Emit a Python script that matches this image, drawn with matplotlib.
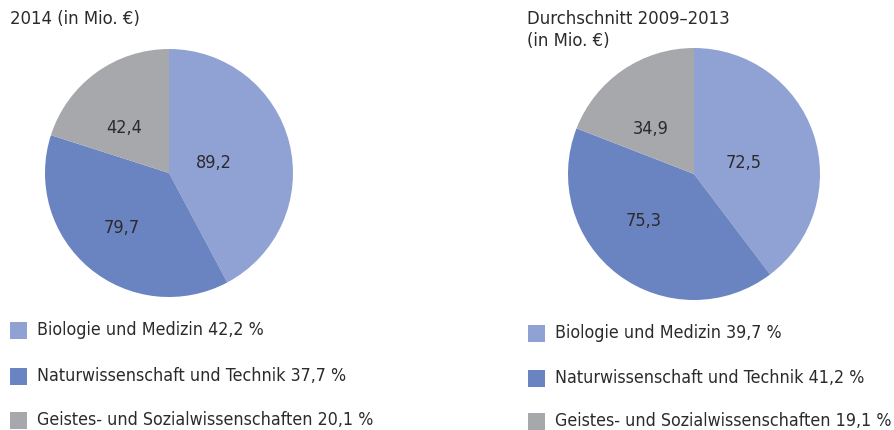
import matplotlib
matplotlib.use("Agg")
import matplotlib.pyplot as plt
from matplotlib.patches import Rectangle

plt.rcParams['font.family'] = ['DejaVu Sans']
plt.rcParams['font.stretch'] = 'condensed'

# data
categories = ["Biologie und Medizin", "Naturwissenschaft und Technik",
              "Geistes- und Sozialwissenschaften"]
values_2014 = [89.2, 79.7, 42.4]
values_avg = [72.5, 75.3, 34.9]
shares_2014 = ["42,2", "37,7", "20,1"]
shares_avg = ["39,7", "41,2", "19,1"]
titles = ["2014 (in Mio. €)", "Durchschnitt 2009–2013\n(in Mio. €)"]

colors = ["#8fa2d3", "#6a83c1", "#a7a8ab"]
text_color = "#2b2b2b"

W, H = 894, 430
fig = plt.figure(figsize=(W / 100, H / 100), dpi=100)


def fx(px):
    return px / W


def fy(py):
    return 1 - py / H


# pie boxes in pixels: center x, center y, radius
pies = [(169, 173, 124), (694, 174, 126)]
label_pos = [
    [(0.36, 0.08), (-0.38, -0.44), (-0.36, 0.36)],
    [(0.39, 0.09), (-0.40, -0.37), (-0.34, 0.36)],
]
datasets = [values_2014, values_avg]
shares = [shares_2014, shares_avg]
title_x = [10, 527]
title_y = [10, 10]
legend_x = [10, 528]
legend_y = [[330, 376, 420], [333, 378, 421]]

for i in range(2):
    cx, cy, r = pies[i]
    ax = fig.add_axes([fx(cx - r), fy(cy + r), fx(2 * r), 2 * r / H])
    ax.pie(datasets[i], colors=colors, startangle=90, counterclock=False,
           radius=1, wedgeprops=dict(linewidth=0))
    ax.set_xlim(-1, 1)
    ax.set_ylim(-1, 1)
    ax.set_aspect('equal')
    ax.axis('off')
    for v, (lx, ly) in zip(datasets[i], label_pos[i]):
        ax.text(lx, ly, f"{v:.1f}".replace(".", ","), ha='center', va='center',
                fontsize=13, color=text_color)

    fig.text(fx(title_x[i]), fy(title_y[i]), titles[i], ha='left', va='top',
             fontsize=13.2, color=text_color, linespacing=1.3)

    for cat, sh, col, ly in zip(categories, shares[i], colors, legend_y[i]):
        fig.add_artist(Rectangle((fx(legend_x[i]), fy(ly + 9)), fx(17), 17 / H,
                                 transform=fig.transFigure, color=col, lw=0))
        fig.text(fx(legend_x[i] + 27), fy(ly), f"{cat} {sh} %", ha='left',
                 va='center', fontsize=12.8, color=text_color)

fig.savefig("out.png", dpi=100)
